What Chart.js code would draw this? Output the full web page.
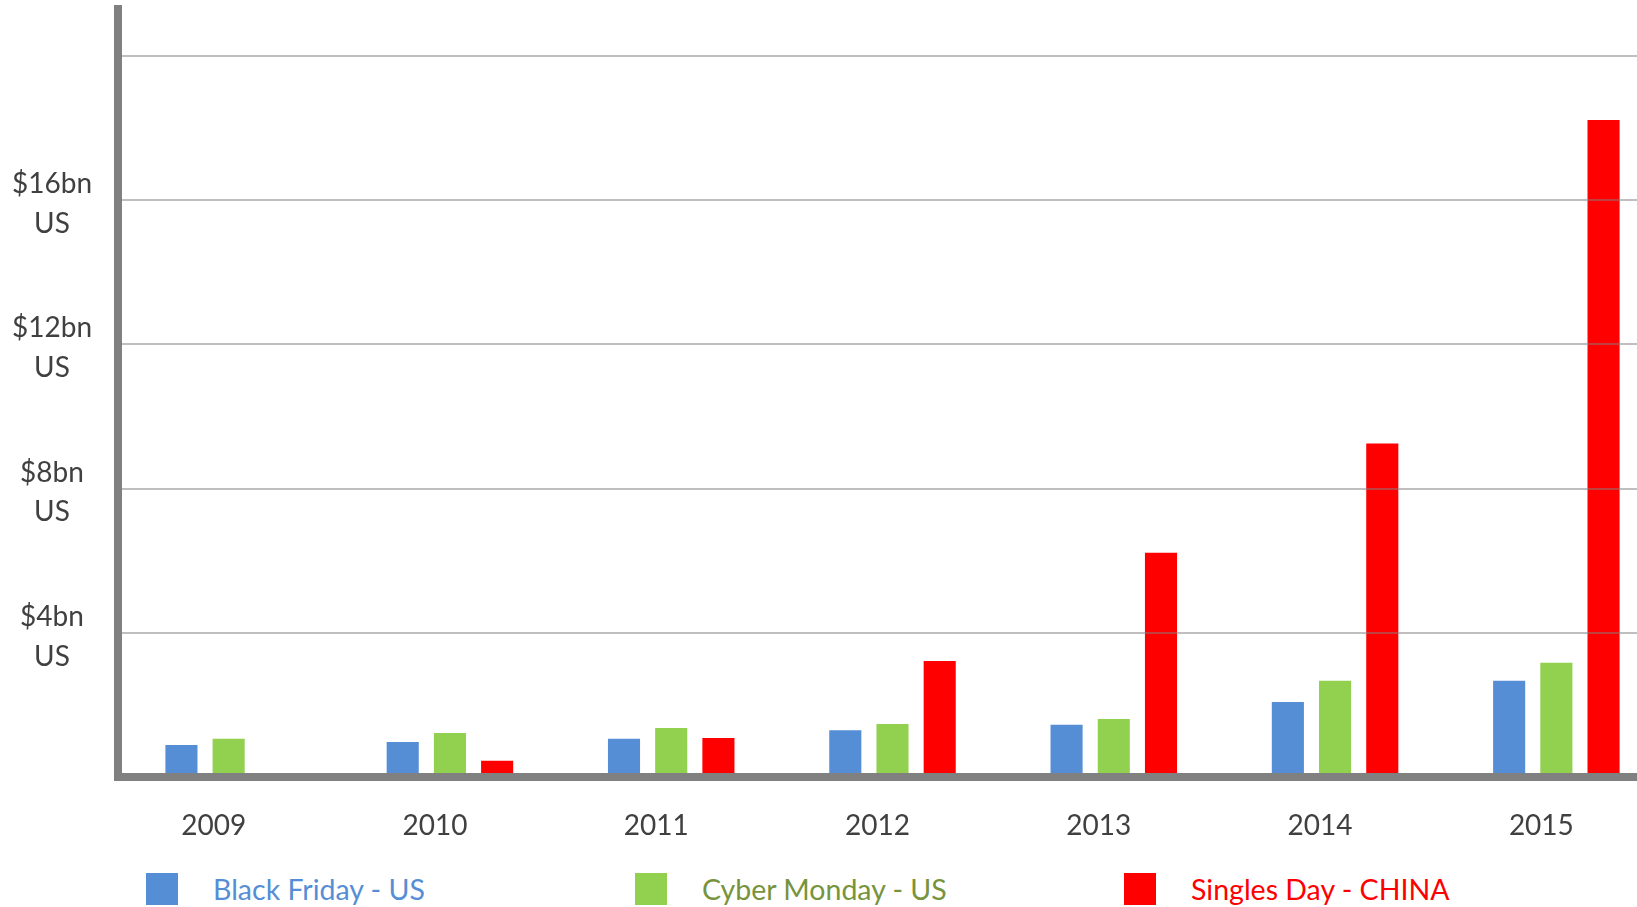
<!DOCTYPE html>
<html>
<head>
<meta charset="utf-8">
<title>Black Friday vs Cyber Monday vs Singles Day</title>
<script src="https://cdn.jsdelivr.net/npm/chart.js@4/dist/chart.umd.min.js"></script>
<style>
    html, body { margin: 0; padding: 0; background: #fff; overflow: hidden; }
    #chart-container { position: absolute; left: 0; top: 0; width: 1667px; height: 850px; }
    #legend { position: absolute; left: 146px; top: 873px; display: flex; font-family: Lato, sans-serif; font-size: 28.5px; }
    .legend-item { width: 489px; display: flex; align-items: center; height: 32px; }
    .legend-box { width: 32px; height: 32px; margin-right: 35px; flex: none; }
</style>
</head>
<body>
<div id="chart-container"><canvas id="sales-chart"></canvas></div>
<div id="legend"></div>
<script>
// years on the x axis
const years = ['2009', '2010', '2011', '2012', '2013', '2014', '2015'];

// online sales, $bn
const blackFriday = [0.89, 0.97, 1.06, 1.30, 1.45, 2.08, 2.67];
const cyberMonday = [1.06, 1.22, 1.36, 1.47, 1.61, 2.67, 3.17];
const singlesDay = [null, 0.45, 1.08, 3.22, 6.22, 9.25, 18.22];

const seriesNames = ['Black Friday - US', 'Cyber Monday - US', 'Singles Day - CHINA'];
const barColors = ['#558ed5', '#92d050', '#ff0000'];
const legendTextColors = ['#558ed5', '#77933c', '#ff0000'];

// y tick labels shown (value -> label lines)
const tickValues = [4, 8, 12, 16];
const tickLabels = [['$4bn', 'US'], ['$8bn', 'US'], ['$12bn', 'US'], ['$16bn', 'US']];

const seriesData = [blackFriday, cyberMonday, singlesDay];

// legend, built from the series
let legendDiv = document.getElementById('legend');
for (let i = 0; i < seriesNames.length; i++) {
    let item = document.createElement('div');
    item.className = 'legend-item';
    item.innerHTML = `<span class="legend-box" style="background:${barColors[i]}"></span><span style="color:${legendTextColors[i]}">${seriesNames[i]}</span>`;
    legendDiv.appendChild(item);
}

const ctx = document.getElementById('sales-chart').getContext('2d');

new Chart(ctx, {
    type: 'bar',
    data: {
        labels: years,
        datasets: seriesData.map((values, i) => ({
            label: seriesNames[i],
            data: values,
            backgroundColor: barColors[i],
            borderWidth: 0,
            categoryPercentage: 0.64,
            barPercentage: 0.68
        }))
    },
    options: {
        responsive: true,
        maintainAspectRatio: false,
        animation: false,
        layout: { padding: { top: 9, left: 0, right: 0, bottom: 0 } },
        plugins: {
            legend: { display: false },
            tooltip: { enabled: false }
        },
        scales: {
            x: {
                grid: { display: false },
                border: { color: '#808080', width: 8, z: 2 },
                ticks: {
                    color: '#404040',
                    font: { family: 'Lato', size: 28 },
                    padding: 24,
                    labelOffset: -15,
                    maxRotation: 0
                },
                afterFit: scale => {
                    scale.height = 73;
                    scale.paddingLeft = 0;
                    scale.paddingRight = 0;
                }
            },
            y: {
                min: 0,
                max: 21.3,
                grid: {
                    color: 'rgba(128, 128, 128, 0.5)',
                    lineWidth: 2,
                    drawTicks: false,
                    z: 1
                },
                border: { color: '#808080', width: 8, z: 2 },
                ticks: {
                    stepSize: 4,
                    color: '#404040',
                    font: { family: 'Lato', size: 28, lineHeight: 1.42 },
                    padding: 26,
                    labelOffset: 4,
                    crossAlign: 'center',
                    callback: value => {
                        let k = tickValues.indexOf(value);
                        return k >= 0 ? tickLabels[k] : '';
                    }
                },
                afterBuildTicks: scale => {
                    scale.ticks = scale.ticks.filter(t => t.value % 4 === 0);
                },
                afterFit: scale => {
                    scale.width = 118;
                    scale.paddingTop = 0;
                    scale.paddingBottom = 0;
                }
            }
        }
    }
});
</script>
</body>
</html>
